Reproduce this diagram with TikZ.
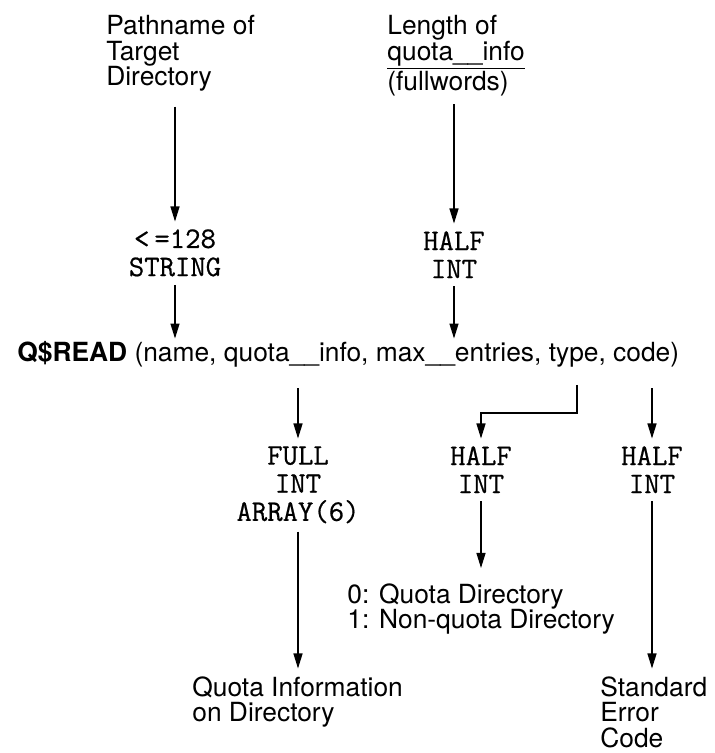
\documentclass[tikz,border=0pt]{standalone}
\usepackage{fontspec}
\setmainfont{TeX Gyre Heros}
\newfontfamily\typfont{lmmono12-regular.otf}[FakeBold=0.6]
\usetikzlibrary{arrows.meta,calc}

\begin{document}
\begin{tikzpicture}[
  every node/.style={inner sep=0pt},
  label/.style={font=\fontsize{15}{14.5}\selectfont,align=left},
  typ/.style={font=\typfont\fontsize{17}{16}\selectfont,align=center},
  call/.style={font=\fontsize{15}{15}\selectfont},
  flow/.style={line width=0.7pt,-{Triangle[length=0.3cm,width=0.18cm]},
    shorten <=0.16cm,shorten >=0.15cm}
]
\useasboundingbox (0,0) rectangle (14.3,15.06);

% Eingaben oben
\node[label,anchor=north west] (path) at (2.12,14.76)
  {Pathname of\\Target\\Directory};
\node[label,anchor=north west] (len) at (7.74,14.76)
  {Length of\\\underline{quota\_\_info}\\(fullwords)};

\node[typ,anchor=north] (str) at (3.5,10.48) {<\,=128\\STRING};
\node[typ,anchor=north] (half1) at (9.08,10.44) {HALF\\INT};

% der Aufruf
\node[call,anchor=base west] (call) at (0.34,7.82)
  {\textbf{Q\$READ} (name, quota\_\_info, max\_\_entries, type, code)};
\coordinate (typearg) at (11.54,7.36);
\coordinate (typebend) at (11.54,6.80);

% Ausgaben unten
\node[typ,anchor=north] (full) at (5.96,6.14) {FULL\\INT\\ARRAY(6)};
\node[typ,anchor=north] (half2) at (9.62,6.14) {HALF\\INT};
\node[typ,anchor=north] (half3) at (13.04,6.14) {HALF\\INT};

\node[label,anchor=north west] (qtype) at (6.94,3.40)
  {0: Quota Directory\\1: Non-quota Directory};
\node[label,anchor=north west] (qinfo) at (3.84,1.54)
  {Quota Information\\on Directory};
\node[label,anchor=north west] (stderr) at (12.0,1.54)
  {Standard\\Error\\Code};

% Pfeile
\draw[flow,shorten <=0.3cm] (str.north |- path.south) -- (str.north);
\draw[flow,shorten >=0.06cm] (str.south) -- (str.south |- call.north);
\draw[flow] (half1.north |- len.south) -- (half1.north);
\draw[flow,shorten >=0.06cm] (half1.south) -- (half1.south |- call.north);

\draw[flow,shorten <=0.4cm] (full.north |- call.south) -- (full.north);
\draw[flow,shorten <=0pt] (typearg) -- (typebend) -| (half2.north);
\draw[flow,shorten <=0.4cm] (half3.north |- call.south) -- (half3.north);

\draw[flow] (full.south) -- (full.south |- qinfo.north);
\draw[flow,shorten >=0.3cm] (half2.south) -- (half2.south |- qtype.north);
\draw[flow] (half3.south) -- (half3.south |- stderr.north);

\end{tikzpicture}
\end{document}
